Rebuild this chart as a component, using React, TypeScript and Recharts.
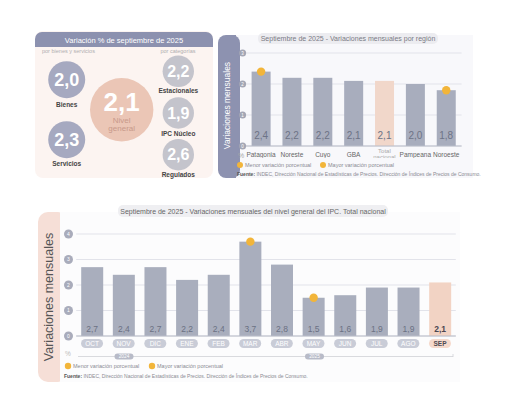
import React from 'react';
import { BarChart, Bar, XAxis, YAxis, CartesianGrid } from 'recharts';

const regionNames = ['Patagonia', 'Noreste', 'Cuyo', 'GBA', 'Total nacional', 'Pampeana', 'Noroeste'];
const regionValues = [2.4, 2.2, 2.2, 2.1, 2.1, 2.0, 1.8];
const regionTicks = [0, 1, 2, 3];

const months = ['OCT', 'NOV', 'DIC', 'ENE', 'FEB', 'MAR', 'ABR', 'MAY', 'JUN', 'JUL', 'AGO', 'SEP'];
const monthValues = [2.7, 2.4, 2.7, 2.2, 2.4, 3.7, 2.8, 1.5, 1.6, 1.9, 1.9, 2.1];
const monthTicks = [0, 1, 2, 3, 4];
const yearLabels = ['2024', '2025'];

const bienesServiciosNames = ['Bienes', 'Servicios'];
const bienesServiciosValues = [2.0, 2.3];
const categoriaNames = ['Estacionales', 'IPC Núcleo', 'Regulados'];
const categoriaValues = [2.2, 1.9, 2.6];
const nivelGeneralValue = 2.1;

const FONT = '"Liberation Sans", Arial, Helvetica, sans-serif';
const fmt = (v: number) => v.toFixed(1).replace('.', ',');
const DOT = '#f2b53a';
const SOURCE = ' INDEC, Dirección Nacional de Estadísticas de Precios. Dirección de Índices de Precios de Consumo.';

const regionData = regionNames.map((n, i) => ({ name: n, value: regionValues[i] }));
const monthData = months.map((m, i) => ({ name: m, value: monthValues[i] }));
const regionMax = regionValues.indexOf(Math.max(...regionValues));
const regionMin = regionValues.lastIndexOf(Math.min(...regionValues));
const monthMax = monthValues.indexOf(Math.max(...monthValues));
const monthMin = monthValues.indexOf(Math.min(...monthValues));

const RegionBar = (p: any) => {
  const { x, y, width, height, index, payload } = p;
  const total = payload.name === 'Total nacional';
  return (
    <g>
      <rect x={x} y={y} width={width} height={height} fill={total ? '#f1d7ca' : '#a8adbd'} />
      <text x={x + width / 2} y={y + height - 7.5} textAnchor="middle" fontSize={10} fill="#6d7386" fontFamily={FONT}>
        {fmt(payload.value)}
      </text>
      {(index === regionMax || index === regionMin) && <circle cx={x + width / 2} cy={y} r={4.2} fill={DOT} />}
    </g>
  );
};

const MonthBar = (p: any) => {
  const { x, y, width, height, index, payload } = p;
  const last = index === months.length - 1;
  return (
    <g>
      <rect x={x} y={y} width={width} height={height} fill={last ? '#f2d3c4' : '#a9aebd'} />
      <text x={x + width / 2} y={y + height - 4} textAnchor="middle" fontSize={8.5} fontWeight={last ? 'bold' : 'normal'} fill={last ? '#4a4650' : '#6b7183'} fontFamily={FONT}>
        {fmt(payload.value)}
      </text>
      {(index === monthMax || index === monthMin) && <circle cx={x + width / 2} cy={y} r={4.2} fill={DOT} />}
    </g>
  );
};

const RegionYTick = (p: any) => (
  <g>
    <circle cx={p.x - 3} cy={p.y} r={3.5} fill="#a3a6b4" />
    <text x={p.x - 3} y={p.y + 1.6} textAnchor="middle" fontSize={4.5} fill="#fff" fontFamily={FONT}>{p.payload.value}</text>
  </g>
);

const MonthYTick = (p: any) => (
  <g>
    <circle cx={p.x - 7.7} cy={p.y} r={4.5} fill="#a9acbb" />
    <text x={p.x - 7.7} y={p.y + 1.8} textAnchor="middle" fontSize={5} fill="#fff" fontFamily={FONT}>{p.payload.value}</text>
  </g>
);

const RegionXTick = (p: any) => {
  const v = p.payload.value as string;
  if (v === 'Total nacional') {
    return (
      <g fontFamily={FONT}>
        <text x={p.x} y={p.y + 6.5} textAnchor="middle" fontSize={6} fill="#aaa">Total</text>
        <text x={p.x} y={p.y + 12.5} textAnchor="middle" fontSize={6} fill="#aaa">nacional</text>
      </g>
    );
  }
  return (
    <text x={p.x} y={p.y + 11} textAnchor="middle" fontSize={6.5} fill="#666" fontFamily={FONT}>{v}</text>
  );
};

const MonthXTick = (p: any) => {
  const v = p.payload.value as string;
  const last = v === months[months.length - 1];
  return (
    <g fontFamily={FONT}>
      <rect x={p.x - 11} y={p.y + 3} width={22} height={9} rx={4.5} fill={last ? '#f5d9cc' : '#c9ccd7'} />
      <text x={p.x} y={p.y + 10} textAnchor="middle" fontSize={6.5} fontWeight={last ? 'bold' : 'normal'} fill={last ? '#4d4a52' : '#fff'}>{v}</text>
    </g>
  );
};

const leftPos = [{ cx: 66.7, cy: 79.7, ly: 106.5 }, { cx: 66.7, cy: 139.7, ly: 165.5 }];
const rightPos = [{ cx: 178.3, cy: 71.3, ly: 93 }, { cx: 178.3, cy: 113, ly: 135.5 }, { cx: 178.3, cy: 154.7, ly: 177 }];

const Background = () => (
  <svg width={514} height={394} style={{ position: 'absolute', left: 0, top: 0 }} fontFamily={FONT}>
    {/* top-left panel */}
    <rect x={35} y={31} width={178} height={147} rx={8} fill="#fcf4f1" />
    <rect x={35} y={32} width={178} height={15} rx={7} fill="#8c91af" />
    <rect x={35} y={40} width={178} height={7} fill="#8c91af" />
    <text x={124} y={42.5} textAnchor="middle" fontSize={7.5} fill="#fff">Variación % de septiembre de 2025</text>
    <text x={42} y={52.5} fontSize={5.5} fill="#b0aeb0">por bienes y servicios</text>
    <text x={178} y={52.5} textAnchor="middle" fontSize={5.5} fill="#b0aeb0">por categorías</text>
    {bienesServiciosNames.map((n, i) => (
      <g key={n}>
        <circle cx={leftPos[i].cx} cy={leftPos[i].cy} r={18.5} fill="#a6a9c0" />
        <text x={leftPos[i].cx} y={leftPos[i].cy + 6.5} textAnchor="middle" fontSize={18} fontWeight="bold" fill="#fff">{fmt(bienesServiciosValues[i])}</text>
        <text x={leftPos[i].cx} y={leftPos[i].ly} textAnchor="middle" fontSize={6.5} fontWeight="bold" fill="#444">{n}</text>
      </g>
    ))}
    <circle cx={121.7} cy={109.7} r={31.7} fill="#ebc6b6" />
    <text x={121.7} y={110.5} textAnchor="middle" fontSize={26} fontWeight="bold" fill="#fff">{fmt(nivelGeneralValue)}</text>
    <text x={121.7} y={122.5} textAnchor="middle" fontSize={8} fill="#c8998a">Nivel</text>
    <text x={121.7} y={130.5} textAnchor="middle" fontSize={8} fill="#c8998a">general</text>
    {categoriaNames.map((n, i) => (
      <g key={n}>
        <circle cx={rightPos[i].cx} cy={rightPos[i].cy} r={15.7} fill="#c4c4cc" />
        <text x={rightPos[i].cx} y={rightPos[i].cy + 5.5} textAnchor="middle" fontSize={16} fontWeight="bold" fill="#fff">{fmt(categoriaValues[i])}</text>
        <text x={rightPos[i].cx} y={rightPos[i].ly} textAnchor="middle" fontSize={6.5} fontWeight="bold" fill="#444">{n}</text>
      </g>
    ))}

    {/* top-right panel */}
    <rect x={235} y={35} width={238} height={143} fill="#f8f8fb" />
    <rect x={218} y={35} width={22} height={143} rx={8} fill="#8d92b0" />
    <rect x={232} y={35} width={4} height={143} fill="#8d92b0" />
    <text transform="translate(229.8,105.5) rotate(-90)" textAnchor="middle" fontSize={8.5} fill="#fff">Variaciones mensuales</text>
    <rect x={258} y={33} width={180} height={11} rx={5} fill="#ececf0" />
    <text x={348} y={41} textAnchor="middle" fontSize={7} fill="#7a7a85">Septiembre de 2025 - Variaciones mensuales por región</text>
    <text x={238} y={157.5} fontSize={7} fill="#aaa">%</text>
    <circle cx={240} cy={165} r={3} fill={DOT} />
    <text x={245} y={167} fontSize={5.5} fill="#8a8a92">Menor variación porcentual</text>
    <circle cx={323} cy={165} r={3} fill={DOT} />
    <text x={328} y={167} fontSize={5.5} fill="#8a8a92">Mayor variación porcentual</text>
    <text x={237} y={175.5} fontSize={5} fill="#8a8a92"><tspan fontWeight="bold" fill="#555">Fuente:</tspan>{SOURCE}</text>

    {/* bottom panel */}
    <rect x={60} y={212} width={400} height={170} fill="#fcfcfd" />
    <rect x={38} y={212} width={30} height={170} rx={10} fill="#f6dfd7" />
    <rect x={60} y={212} width={8} height={170} fill="#fcfcfd" />
    <text transform="translate(52.8,297) rotate(-90)" textAnchor="middle" fontSize={12.5} fill="#555">Variaciones mensuales</text>
    <rect x={118} y={205} width={270} height={12} rx={5} fill="#efeff2" />
    <text x={253} y={213.5} textAnchor="middle" fontSize={7} fill="#666">Septiembre de 2025 - Variaciones mensuales del nivel general del IPC. Total nacional</text>
    <text x={65} y={356} fontSize={6.5} fill="#bbb">%</text>
    <line x1={78} x2={453} y1={356.5} y2={356.5} stroke="#cfd0d6" strokeWidth={0.8} />
    <line x1={453} x2={453} y1={354} y2={357} stroke="#cfd0d6" strokeWidth={0.8} />
    {yearLabels.map((yl, i) => {
      const cx = i === 0 ? 124 : 314.5;
      return (
        <g key={yl}>
          <rect x={cx - 9.5} y={353.5} width={19} height={6} rx={3} fill="#b8bbc8" />
          <text x={cx} y={358.3} textAnchor="middle" fontSize={4.8} fill="#fff">{yl}</text>
        </g>
      );
    })}
    <circle cx={68} cy={366} r={3.2} fill={DOT} />
    <text x={73} y={368} fontSize={5.5} fill="#8a8a92">Menor variación porcentual</text>
    <circle cx={152} cy={366} r={3.2} fill={DOT} />
    <text x={157} y={368} fontSize={5.5} fill="#8a8a92">Mayor variación porcentual</text>
    <text x={64} y={377.5} fontSize={5} fill="#8a8a92"><tspan fontWeight="bold" fill="#555">Fuente:</tspan>{SOURCE}</text>
  </svg>
);

export default function App() {
  return (
    <div style={{ position: 'absolute', left: 0, top: 0, width: 514, height: 394, background: '#fff', fontFamily: FONT }}>
      <Background />
      <div style={{ position: 'absolute', left: 218, top: 33 }}>
        <BarChart width={262} height={125} data={regionData} margin={{ top: 20, right: 18.4, left: 0, bottom: 0 }}>
          <CartesianGrid vertical={false} stroke="#e2e3ea" />
          <YAxis width={27.6} domain={[0, 3]} ticks={regionTicks} axisLine={false} tickLine={false} tickSize={0} tickMargin={0} tick={<RegionYTick />} interval={0} />
          <XAxis dataKey="name" height={12} axisLine={{ stroke: '#b9bcc8' }} tickLine={false} tickSize={0} tickMargin={0} tick={<RegionXTick />} interval={0} />
          <Bar dataKey="value" barSize={19} shape={<RegionBar />} isAnimationActive={false} />
        </BarChart>
      </div>
      <div style={{ position: 'absolute', left: 60, top: 214 }}>
        <BarChart width={410} height={138} data={monthData} margin={{ top: 20, right: 14.2, left: 0, bottom: 0 }}>
          <CartesianGrid vertical={false} stroke="#e2e3ea" />
          <YAxis width={16.2} domain={[0, 4]} ticks={monthTicks} axisLine={false} tickLine={false} tickSize={0} tickMargin={0} tick={<MonthYTick />} interval={0} />
          <XAxis dataKey="name" height={16} axisLine={{ stroke: '#b9bcc8' }} tickLine={false} tickSize={0} tickMargin={0} tick={<MonthXTick />} interval={0} />
          <Bar dataKey="value" barSize={22} shape={<MonthBar />} isAnimationActive={false} />
        </BarChart>
      </div>
    </div>
  );
}
